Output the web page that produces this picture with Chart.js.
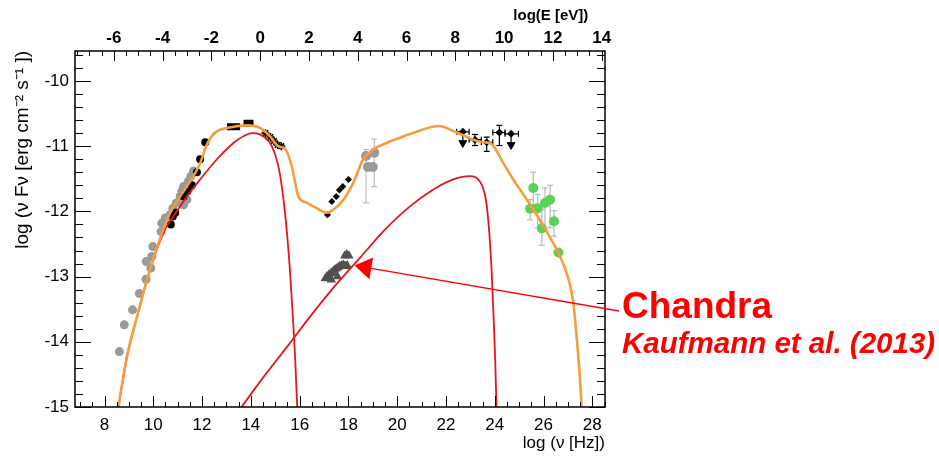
<!DOCTYPE html>
<html>
<head>
<meta charset="utf-8">
<title>SED</title>
<script src="https://cdn.jsdelivr.net/npm/chart.js@4/dist/chart.umd.min.js"></script>
<style>
  html, body { margin: 0; padding: 0; background: #fff; }
</style>
</head>
<body>
<canvas id="chart" width="939" height="457"></canvas>
<script>
// axes: log nu [Hz] (bottom), log E [eV] (top), log nuFnu (left)
const nuTicks = [8, 10, 12, 14, 16, 18, 20, 22, 24, 26, 28];
const eTicks = [-6, -4, -2, 0, 2, 4, 6, 8, 10, 12, 14];
const fluxTicks = [-15, -14, -13, -12, -11, -10];

// total model (orange)
const totalNu = [8.57, 8.92, 9.33, 9.74, 10.21, 10.62, 11.10, 11.51, 11.92, 12.20, 12.54, 13.02, 13.84, 14.38, 14.79, 15.13, 15.41, 15.68, 15.95, 16.30, 16.70, 17.11, 17.39, 17.80, 18.20, 18.61, 19.02, 19.57, 20.12, 21.0, 21.7, 22.44, 23.12, 23.53, 23.81, 24.01, 24.35, 24.76, 25.31, 26.13, 26.95, 27.21, 27.37, 27.50, 27.56];
const totalF = [-15, -14.23, -13.62, -13.05, -12.49, -12.08, -11.77, -11.54, -11.26, -10.97, -10.79, -10.72, -10.68, -10.72, -10.85, -11.0, -11.04, -11.31, -11.77, -11.87, -11.95, -12.02, -11.97, -11.82, -11.56, -11.20, -11.05, -10.95, -10.87, -10.75, -10.69, -10.79, -10.90, -10.94, -10.95, -11.03, -11.26, -11.51, -11.82, -12.31, -12.95, -13.36, -13.98, -14.59, -15];

// synchrotron (red, left)
const syncNu = [8.57, 8.92, 9.33, 9.74, 10.21, 10.62, 10.76, 11.38, 11.92, 12.61, 13.29, 13.84, 14.11, 14.52, 14.86, 15.13, 15.34, 15.54, 15.68, 15.82, 15.9];
const syncF = [-15, -14.23, -13.62, -13.06, -12.52, -12.18, -12.11, -11.77, -11.51, -11.20, -10.95, -10.82, -10.80, -10.85, -11.0, -11.31, -11.82, -12.59, -13.36, -14.28, -15];

// inverse Compton (red, right)
const icNu = [13.62, 14.5, 15.5, 16.5, 17.5, 18.5, 19.5, 20.5, 21.5, 22.3, 23.0, 23.3, 23.5, 23.65, 23.77, 23.87, 23.95, 24.02, 24.07];
const icF = [-15, -14.55, -14.07, -13.58, -13.12, -12.70, -12.28, -11.93, -11.66, -11.51, -11.46, -11.50, -11.62, -11.85, -12.3, -12.9, -13.6, -14.3, -15];

// radio / IR
const radioGrayNu = [8.61, 8.81, 9.15, 9.43, 9.70, 9.71, 9.90, 9.94, 9.98, 10.32, 10.35, 10.49, 10.69, 10.80, 10.94, 11.17, 11.10, 11.24, 11.44, 11.54, 11.65, 11.38, 11.24];
const radioGrayF = [-14.15, -13.74, -13.51, -13.26, -13.04, -12.77, -12.87, -12.69, -12.54, -12.31, -12.18, -12.10, -12.05, -11.95, -11.87, -11.69, -11.77, -11.62, -11.54, -11.46, -11.38, -11.82, -11.90];
const radioBlackNu = [12.13, 11.92, 11.79, 11.58, 11.40, 11.24, 10.90, 10.80, 10.72];
const radioBlackF = [-10.94, -11.20, -11.40, -11.60, -11.69, -11.77, -12.02, -12.08, -12.20];

// optical bands and UV
const optNuLo = [13.02, 13.70];
const optNuHi = [13.56, 14.11];
const optF = [-10.70, -10.65];
const uvNu = [14.6, 14.8, 14.95, 15.1, 15.25];
const uvF = [-10.80, -10.86, -10.92, -10.98, -11.0];

// X-rays
const xrtNu = [17.14, 17.32, 17.50, 17.63, 17.77, 18.0];
const xrtF = [-12.05, -11.85, -11.77, -11.67, -11.62, -11.51];
const hardNu = [18.72, 19.06, 18.80, 19.00];
const hardF = [-11.15, -11.10, -11.32, -11.32];
const hardLo = [-11.87, -11.62, null, null];
const hardHi = [-11.05, -10.89, null, null];
const chandraNu = [17.05, 17.12, 17.2, 17.28, 17.35, 17.42, 17.5, 17.58, 17.65, 17.72, 17.8, 17.88, 17.95, 17.85, 17.93, 18.02, 17.3, 17.55];
const chandraF = [-13.03, -13.0, -12.97, -12.95, -12.93, -12.9, -12.88, -12.86, -12.84, -12.83, -12.82, -12.84, -12.83, -12.68, -12.66, -12.68, -13.05, -13.0];

// gamma rays: Fermi (black), H.E.S.S. (green)
const latNu = [22.69, 23.19, 23.67, 24.19, 24.67];
const latF = [-10.78, -10.90, -10.94, -10.79, -10.81];
const latNuLo = [22.44, 22.95, 23.45, 23.92, 24.42];
const latNuHi = [22.95, 23.45, 23.92, 24.42, 24.97];
const latLo = [null, -10.99, -11.08, -10.99, null];
const latHi = [null, -10.82, -10.86, -10.68, null];
const latUL = [true, false, false, false, true];
const hessNu = [25.58, 25.45, 25.76, 26.06, 26.27, 25.93, 26.43, 26.61];
const hessF = [-11.64, -11.96, -11.95, -11.87, -11.82, -12.26, -12.15, -12.63];
const hessLo = [-11.90, -12.13, -12.25, -12.28, -12.25, -12.52, -12.38, -12.66];
const hessHi = [-11.40, -11.82, -11.74, -11.64, -11.60, -11.97, -11.99, -12.60];

const NU_MIN = 6.79, NU_MAX = 28.52, LOG_H = 14.383;

function pts(xs, ys) { return xs.map((v, i) => ({x: v, y: ys[i]})); }
function vbars(xs, lo, hi) {
  const d = [];
  xs.forEach((v, i) => { if (lo[i] == null) return; d.push({x: v, y: lo[i]}, {x: v, y: hi[i]}, {x: v, y: null}); });
  return d;
}
function hbars(lo, hi, ys) {
  const d = [];
  ys.forEach((v, i) => { d.push({x: lo[i], y: v}, {x: hi[i], y: v}, {x: hi[i], y: null}); });
  return d;
}
function ulArrows(xs, ys, ul) {
  const d = [];
  xs.forEach((v, i) => { if (ul[i]) d.push({x: v, y: ys[i]}, {x: v, y: ys[i] - 0.13}, {x: v, y: null}); });
  return d;
}
function ulHeads(xs, ys, ul) {
  return xs.map((v, i) => ({x: v, y: ys[i] - 0.17})).filter((p, i) => ul[i]);
}
function curve(data, color, width) {
  return {data: data, showLine: true, borderColor: color, borderWidth: width, pointRadius: 0,
    cubicInterpolationMode: 'monotone', fill: false};
}
function errs(data, color, rot) {
  return {data: data, showLine: true, spanGaps: false, borderColor: color, borderWidth: 1.2,
    pointStyle: 'line', pointRadius: 3, pointBorderColor: color, pointBorderWidth: 1.2, pointRotation: rot};
}
function marks(data, color, style, r) {
  return {data: data, showLine: false, pointStyle: style, pointRadius: r, backgroundColor: color,
    borderColor: color, pointBorderWidth: 0};
}

const frame = {
  id: 'frame',
  afterDatasetsDraw(chart) {
    const {ctx, chartArea: a, scales} = chart;
    ctx.save();
    ctx.strokeStyle = '#000';
    ctx.lineWidth = 1;
    ctx.beginPath();
    for (let v = 7; v <= 28.5; v += 0.5) {
      const px = Math.round(scales.x.getPixelForValue(v)) + 0.5;
      ctx.moveTo(px, a.bottom); ctx.lineTo(px, a.bottom - (v % 2 === 0 ? 11 : 5));
    }
    for (let v = -7.5; v <= 14; v += 0.5) {
      const px = Math.round(scales.x2.getPixelForValue(v)) + 0.5;
      ctx.moveTo(px, a.top); ctx.lineTo(px, a.top + (v % 2 === 0 ? 10 : 5));
    }
    for (let i = -75; i <= -48; i++) {
      const py = Math.round(scales.y.getPixelForValue(i / 5)) + 0.5;
      const len = i % 5 === 0 ? 16 : 8;
      ctx.moveTo(a.left, py); ctx.lineTo(a.left + len, py);
      ctx.moveTo(a.right, py); ctx.lineTo(a.right - len, py);
    }
    ctx.stroke();
    ctx.lineWidth = 1.5;
    ctx.strokeRect(a.left, a.top, a.right - a.left, a.bottom - a.top);
    ctx.restore();
  },
  afterDraw(chart) {
    const {ctx, scales} = chart;
    const tx = scales.x.getPixelForValue(18.25), ty = scales.y.getPixelForValue(-12.83);
    const sx = 619, sy = 311;
    const ang = Math.atan2(ty - sy, tx - sx);
    const hl = 17, hw = 11;
    const bx = tx - hl * Math.cos(ang), by = ty - hl * Math.sin(ang);
    ctx.save();
    ctx.strokeStyle = '#ff0000';
    ctx.fillStyle = '#ff0000';
    ctx.lineWidth = 1.3;
    ctx.beginPath(); ctx.moveTo(sx, sy); ctx.lineTo(bx, by); ctx.stroke();
    ctx.beginPath();
    ctx.moveTo(tx, ty);
    ctx.lineTo(bx + hw * Math.sin(ang), by - hw * Math.cos(ang));
    ctx.lineTo(bx - hw * Math.sin(ang), by + hw * Math.cos(ang));
    ctx.closePath(); ctx.fill();
    ctx.textBaseline = 'alphabetic';
    ctx.textAlign = 'left';
    ctx.font = "bold 37px 'Liberation Sans', Arial, sans-serif";
    ctx.fillText('Chandra', 622, 318);
    ctx.font = "italic bold 29.5px 'Liberation Sans', Arial, sans-serif";
    ctx.fillText('Kaufmann et al. (2013)', 622, 353);
    ctx.restore();
  }
};

Chart.defaults.font.family = "'Liberation Sans', Arial, sans-serif";
Chart.defaults.color = '#000';

const noGrid = {display: false, drawTicks: false, tickLength: 0};

const chart = new Chart(document.getElementById('chart'), {
  type: 'scatter',
  data: {
    datasets: [
      curve(pts(totalNu, totalF), '#f59d3d', 2.6),
      curve(pts(icNu, icF), '#e3161c', 1.8),
      curve(pts(syncNu, syncF), '#e3161c', 1.8),
      marks(pts(latNu, latF), '#000', 'rectRot', 4),
      errs(hbars(latNuLo, latNuHi, latF), '#000', 90),
      errs(vbars(latNu, latLo, latHi), '#000', 0),
      {data: ulArrows(latNu, latF, latUL), showLine: true, spanGaps: false, borderColor: '#000', borderWidth: 1.2, pointRadius: 0},
      {data: ulHeads(latNu, latF, latUL), showLine: false, pointStyle: 'triangle', pointRotation: 180, pointRadius: 4.5, backgroundColor: '#000', borderColor: '#000'},
      marks(pts(hessNu, hessF), '#5ad155', 'circle', 5),
      errs(vbars(hessNu, hessLo, hessHi), '#b9b9b9', 0),
      marks(pts(chandraNu, chandraF), '#505050', 'triangle', 5.5),
      marks(pts(xrtNu, xrtF), '#000', 'rectRot', 3.5),
      marks(pts(hardNu, hardF), '#9a9a9a', 'circle', 5),
      errs(vbars(hardNu, hardLo, hardHi), '#bdbdbd', 0),
      {data: pts(uvNu, uvF), showLine: false, pointStyle: 'star', pointRadius: 4, borderColor: '#000', pointBorderWidth: 1.6},
      {data: hbars(optNuLo, optNuHi, optF), showLine: true, spanGaps: false, borderColor: '#000', borderWidth: 7, pointRadius: 0},
      marks(pts(radioBlackNu, radioBlackF), '#000', 'circle', 4),
      marks(pts(radioGrayNu, radioGrayF), '#9a9a9a', 'circle', 4.5)
    ]
  },
  options: {
    responsive: false,
    animation: false,
    layout: {padding: {left: 0, right: 334, top: 0, bottom: 0}},
    plugins: {legend: {display: false}, tooltip: {enabled: false}},
    scales: {
      x: {
        type: 'linear', position: 'bottom', min: NU_MIN, max: NU_MAX,
        afterBuildTicks: s => { s.ticks = nuTicks.map(v => ({value: v})); },
        afterFit: s => { s.height = 50; },
        grid: noGrid, border: {display: false},
        ticks: {font: {size: 17}, padding: 8, maxRotation: 0},
        title: {display: true, text: 'log (ν [Hz])', align: 'end', font: {size: 17}, padding: {top: 0, bottom: 3}}
      },
      x2: {
        type: 'linear', axis: 'x', position: 'top', min: NU_MIN - LOG_H, max: NU_MAX - LOG_H,
        afterBuildTicks: s => { s.ticks = eTicks.map(v => ({value: v})); },
        afterFit: s => { s.height = 51; },
        grid: noGrid, border: {display: false},
        ticks: {font: {size: 17, weight: 'bold'}, padding: 2, maxRotation: 0},
        title: {display: true, text: 'log(E [eV])\u00a0\u00a0\u00a0\u00a0', align: 'end', font: {size: 15, weight: 'bold'}, padding: {top: 7, bottom: 0}}
      },
      y: {
        type: 'linear', position: 'left', min: -15, max: -9.54,
        afterBuildTicks: s => { s.ticks = fluxTicks.map(v => ({value: v})); },
        afterFit: s => { s.width = 75; },
        grid: noGrid, border: {display: false},
        ticks: {font: {size: 17}, padding: 6},
        title: {display: true, text: 'log (ν Fν [erg cm⁻² s⁻¹ ])', align: 'end', font: {size: 19}, padding: {top: 11, bottom: 0}}
      }
    }
  },
  plugins: [frame]
});
</script>
</body>
</html>
